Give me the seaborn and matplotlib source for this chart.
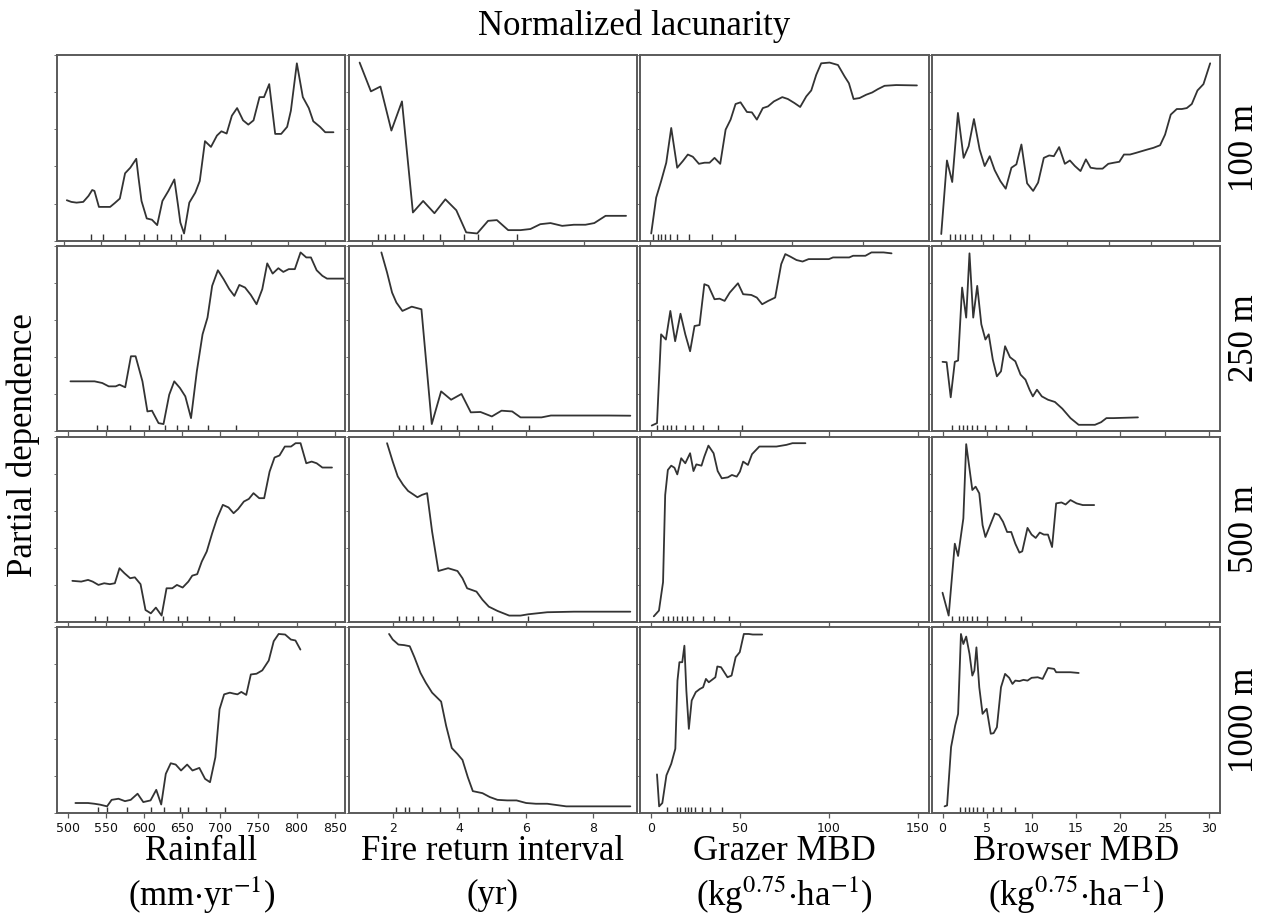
import seaborn as sns
import matplotlib.pyplot as plt

# values; y is the partial dependence in % of its panel range
rows = ['100 m', '250 m', '500 m', '1000 m']
predictors = ['Rainfall', 'Fire return interval', 'Grazer MBD', 'Browser MBD']
units = [r'(mm$\cdot$yr$^{-1}$)', '(yr)',
         r'(kg$^{0.75}$$\cdot$ha$^{-1}$)', r'(kg$^{0.75}$$\cdot$ha$^{-1}$)']
tick_values = [[500, 550, 600, 650, 700, 750, 800, 850], [2, 4, 6, 8],
               [0, 50, 100, 150], [0, 5, 10, 15, 20, 25, 30]]
x_limits = [[(491, 877), (1.34, 9.51), (-7, 196), (-1.12, 33.26)],
            [(486, 864), (0.68, 9.32), (-6, 156), (-1.2, 31.2)],
            [(486, 864), (0.68, 9.32), (-6, 156), (-1.2, 31.2)],
            [(486, 864), (0.68, 9.32), (-6, 156), (-1.2, 31.2)]]

# 100 m
rain_100_x = [504, 510, 517, 526, 533, 538, 541, 547, 555, 562, 568, 575, 582, 589, 597, 600, 604, 611,
              618, 625, 632, 640, 648, 653, 656, 661, 668, 676, 682, 689, 697, 705, 711, 718, 725, 732,
              740, 747, 754, 762, 768, 775, 783, 791, 799, 804, 812, 820, 828, 834, 843, 850, 861]
rain_100_y = [21.8, 20.9, 20.5, 20.9, 24.1, 27.3, 26.8, 18.2, 18.2, 18.2, 20.2, 22.7, 36.3, 39.3, 44.1,
              33.9, 21.4, 12.0, 11.3, 8.4, 21.4, 26.8, 33.0, 18.8, 9.8, 3.9, 20.5, 25.9, 32.1, 53.6, 50.5,
              56.6, 58.9, 57.7, 67.3, 71.4, 64.8, 62.5, 64.8, 77.3, 77.3, 84.3, 57.5, 57.5, 61.3, 70.0,
              95.5, 77.3, 71.4, 64.3, 61.3, 58.4, 58.4]
fire_100_x = [1.65, 1.97, 2.24, 2.55, 2.85, 3.16, 3.45, 3.77, 4.08, 4.39, 4.67, 4.98, 5.29, 5.54, 5.86,
              6.21, 6.49, 6.77, 7.06, 7.39, 7.72, 8.05, 8.30, 8.62, 9.20]
fire_100_y = [95.9, 80.4, 83.0, 59.3, 75.0, 15.2, 21.4, 14.8, 22.3, 16.4, 4.5, 3.9, 10.7, 11.1, 5.7,
              5.7, 6.3, 8.9, 9.5, 8.0, 8.6, 8.6, 9.5, 13.4, 13.4]
graz_100_x = [0.7, 4.2, 7.7, 11.3, 14.8, 19.0, 23.0, 26.5, 30.0, 34.3, 38.3, 41.8, 45.3, 49.3, 53.1,
              56.6, 60.1, 63.6, 68.1, 71.6, 75.1, 79.3, 82.9, 87.1, 93.0, 96.9, 101.6, 105.6, 109.9,
              113.4, 116.9, 120.4, 126.3, 132.2, 136.9, 139.9, 143.2, 147.4, 152.1, 156.3, 160.3,
              165.0, 173.2, 187.8]
graz_100_y = [3.9, 23.2, 32.1, 42.0, 60.7, 39.3, 42.9, 46.4, 45.2, 41.4, 42.0, 42.0, 44.6, 41.4, 59.8,
              65.2, 73.6, 74.5, 69.3, 69.1, 65.2, 71.4, 72.3, 75.0, 77.3, 76.3, 74.1, 72.0, 77.7, 80.9,
              89.3, 95.5, 95.9, 94.6, 88.4, 84.8, 76.3, 76.8, 78.6, 79.8, 81.6, 83.4, 83.8, 83.6]
brow_100_x = [0, 0.68, 1.31, 1.99, 2.67, 3.27, 3.90, 4.58, 5.18, 5.78, 6.37, 7.05, 7.69, 8.37, 8.96,
              9.56, 10.24, 10.96, 11.55, 12.23, 12.87, 13.43, 14.06, 14.74, 15.34, 15.94, 16.61, 17.25,
              17.81, 18.53, 19.24, 19.92, 20.60, 21.24, 21.79, 22.51, 23.23, 23.90, 24.58, 25.30,
              26.10, 26.69, 27.37, 28.09, 28.69, 29.28, 29.88, 30.56, 31.27, 32.07]
brow_100_y = [3.6, 43.2, 31.6, 68.8, 44.6, 50.9, 65.5, 49.1, 40.2, 45.5, 38.0, 32.1, 28.0, 39.3, 41.1,
              51.8, 30.9, 26.8, 31.3, 44.6, 45.9, 45.5, 50.4, 41.4, 43.2, 40.2, 37.5, 43.8, 39.3, 38.8,
              38.8, 41.4, 42.0, 42.5, 46.4, 46.4, 47.3, 48.2, 49.1, 50.0, 51.4, 57.1, 67.9, 70.9, 70.9,
              71.4, 73.6, 80.9, 84.3, 95.5]

# 250 m
rain_250_x = [503.5, 522.6, 535.1, 545.2, 553.7, 562.8, 567.8, 575.3, 582.8, 588.9, 597.9, 604.4,
              610.4, 619.0, 625.5, 633.0, 639.6, 647.1, 654.1, 661.6, 669.2, 676.7, 683.2, 689.3,
              696.8, 704.3, 711.8, 718.4, 724.9, 732.4, 740.0, 747.5, 755.0, 761.5, 768.6, 776.1,
              782.6, 789.7, 797.7, 805.2, 812.7, 818.8, 826.3, 833.8, 839.9, 862.4]
rain_250_y = [27.0, 27.0, 27.0, 26.1, 24.3, 24.3, 25.2, 23.8, 40.5, 40.5, 27.0, 10.8, 11.2, 4.5, 4.0,
              19.8, 27.0, 23.4, 18.9, 7.2, 32.4, 52.3, 61.3, 78.4, 86.8, 82.0, 76.6, 73.0, 78.9, 77.5,
              73.5, 68.5, 76.6, 90.5, 85.0, 87.9, 85.9, 87.4, 87.4, 96.4, 93.7, 93.7, 86.8, 83.8,
              82.3, 82.3]
fire_250_x = [1.66, 1.83, 1.98, 2.11, 2.29, 2.57, 2.86, 3.17, 3.45, 3.75, 4.06, 4.34, 4.63, 4.97,
              5.26, 5.58, 5.83, 6.46, 6.74, 8.46, 9.12]
fire_250_y = [96.4, 85.6, 74.8, 69.4, 64.9, 67.2, 65.8, 4.0, 21.6, 17.1, 20.2, 10.3, 10.5, 8.1, 11.2,
              10.8, 7.6, 7.6, 8.6, 8.6, 8.5]
graz_250_x = [0.45, 3.4, 5.7, 8.4, 10.9, 13.6, 16.6, 19.3, 22.0, 24.5, 27.3, 30.0, 32.3, 35.7, 38.6,
              41.4, 44.3, 48.9, 51.8, 56.4, 59.5, 62.5, 65.9, 69.8, 73.2, 75.5, 78.4, 81.8, 85.2, 88.6,
              95.5, 100.0, 102.3, 111.4, 113.6, 120.5, 123.9, 130.7, 135.2]
graz_250_y = [3.2, 4.5, 52.3, 49.5, 64.9, 48.6, 63.4, 52.3, 43.2, 56.8, 57.3, 79.3, 78.4, 71.2, 71.5,
              70.3, 74.8, 79.8, 73.9, 73.5, 72.1, 68.5, 70.3, 72.1, 90.1, 95.5, 94.1, 92.3, 91.5, 92.8,
              92.8, 92.8, 93.7, 93.7, 94.6, 94.6, 96.4, 96.4, 95.9]
brow_250_x = [0, 0.46, 0.92, 1.38, 1.75, 2.20, 2.66, 3.03, 3.45, 3.90, 4.36, 4.82, 5.19, 5.65, 6.11,
              6.57, 7.03, 7.58, 8.18, 8.77, 9.32, 9.78, 10.15, 10.61, 11.16, 11.85, 12.63, 13.46,
              14.38, 15.30, 17.13, 17.82, 18.42, 19.20, 21.96]
brow_250_y = [37.5, 37.3, 18.4, 37.5, 38.2, 77.5, 61.3, 95.9, 61.3, 78.4, 57.7, 49.5, 52.3, 38.7, 29.7,
              32.4, 45.9, 40.0, 37.8, 30.6, 27.9, 22.5, 18.9, 22.5, 18.9, 17.1, 15.9, 12.3, 7.2, 3.6,
              3.6, 5.0, 7.2, 7.2, 7.6]

# 500 m
rain_500_x = [506.0, 517.6, 526.6, 532.6, 540.2, 547.7, 555.2, 561.7, 567.8, 574.3, 581.8, 587.9,
              595.4, 601.9, 608.9, 615.5, 623.0, 629.5, 637.0, 643.1, 650.6, 658.1, 663.2, 669.7,
              675.7, 682.2, 689.3, 695.8, 703.3, 710.8, 717.4, 723.4, 730.9, 737.4, 743.5, 751.0,
              757.5, 764.6, 771.1, 777.6, 784.6, 792.7, 798.7, 805.2, 812.7, 819.8, 826.3, 833.8, 846.4]
rain_500_y = [22.3, 21.9, 22.8, 21.9, 20.1, 21.0, 20.5, 21.0, 29.1, 26.4, 23.7, 24.2, 20.5, 6.6, 4.8,
              7.9, 3.6, 18.3, 18.3, 20.1, 18.7, 21.9, 25.1, 25.9, 32.7, 38.1, 47.9, 56.0, 63.2, 61.8,
              58.7, 61.0, 65.0, 66.4, 69.5, 66.8, 66.8, 81.1, 88.7, 89.8, 94.6, 94.6, 96.4, 96.4, 85.6,
              86.5, 85.6, 83.3, 83.3]
fire_500_x = [1.83, 2.0, 2.15, 2.31, 2.46, 2.61, 2.74, 2.88, 3.03, 3.18, 3.37, 3.66, 3.94, 4.09, 4.23,
              4.51, 4.69, 4.88, 5.14, 5.49, 5.83, 6.06, 6.63, 7.43, 9.12]
fire_500_y = [96.4, 86.5, 78.5, 74.0, 70.7, 68.9, 67.3, 68.6, 69.5, 48.8, 27.6, 29.1, 27.6, 23.7, 18.3,
              16.5, 12.1, 8.4, 6.1, 3.6, 3.6, 4.3, 5.4, 5.7, 5.7]
graz_500_x = [1.6, 4.5, 6.8, 8.0, 9.5, 11.4, 13.2, 14.8, 17.0, 19.3, 22.0, 23.9, 25.5, 28.4, 30.0,
              32.3, 35.2, 37.5, 39.8, 43.2, 45.5, 48.2, 50.0, 51.8, 54.5, 56.8, 60.9, 65.9, 70.5, 76.1,
              79.5, 86.8]
graz_500_y = [3.2, 6.3, 21.6, 68.5, 82.0, 84.3, 83.2, 79.6, 88.3, 85.6, 91.0, 81.4, 85.0, 84.3, 89.2,
              95.1, 91.0, 81.4, 77.5, 78.0, 79.3, 78.4, 81.1, 86.5, 84.7, 90.5, 94.6, 94.6, 94.6, 95.5,
              96.4, 96.4]
brow_500_x = [0, 0.69, 1.38, 1.75, 2.34, 2.66, 3.35, 3.72, 4.13, 4.50, 4.82, 5.28, 5.88, 6.34, 6.80,
              7.26, 7.72, 8.18, 8.64, 8.96, 9.55, 10.01, 10.47, 10.93, 11.39, 11.85, 12.31, 12.77,
              13.37, 13.83, 14.38, 15.07, 15.76, 17.04]
brow_500_y = [15.9, 3.6, 42.3, 35.7, 55.9, 95.9, 71.2, 73.0, 69.4, 52.3, 45.9, 51.4, 58.6, 57.7, 54.1,
              48.6, 48.6, 42.3, 37.5, 38.2, 50.8, 47.2, 45.4, 48.3, 47.2, 47.2, 40.5, 64.0, 64.5, 63.4,
              65.8, 64.0, 63.1, 63.1]

# 1000 m
rain_1000_x = [510, 526.5, 535, 542.5, 551.5, 557.5, 566.5, 575, 582.5, 591.5, 599, 608.5, 616, 622.5,
               628.5, 635, 641.5, 648.5, 656.5, 663.5, 672.5, 680, 686.5, 693.5, 699, 705, 712.5,
               717.5, 722.5, 727.5, 734, 740, 747.5, 755, 763.5, 770, 776.5, 785, 792.5, 798.5, 805]
rain_1000_y = [5.4, 5.4, 5.0, 4.5, 3.6, 7.1, 7.7, 6.4, 7.1, 10.4, 5.9, 6.8, 12.5, 4.6, 21.1, 26.8,
               26.1, 22.9, 26.1, 22.9, 24.3, 18.4, 16.6, 30.0, 55.9, 63.9, 64.8, 64.3, 63.9, 65.2,
               63.6, 74.6, 75.0, 76.8, 82.1, 92.5, 96.4, 96.1, 93.4, 92.9, 88.0]
fire_1000_x = [1.89, 2.0, 2.17, 2.34, 2.51, 2.65, 2.83, 2.99, 3.18, 3.45, 3.60, 3.77, 3.94, 4.09,
               4.25, 4.40, 4.69, 4.91, 5.14, 5.43, 5.71, 6.0, 6.29, 6.63, 7.2, 7.77, 9.12]
fire_1000_y = [96.4, 93.4, 90.7, 90.4, 89.8, 83.9, 75.5, 70.2, 64.8, 60.0, 47.0, 35.0, 31.8, 28.6,
               19.3, 11.8, 10.7, 8.6, 7.1, 6.8, 6.8, 5.4, 5.0, 5.0, 3.6, 3.6, 3.6]
graz_1000_x = [3.4, 4.6, 6.4, 8.7, 11.4, 13.7, 14.9, 16.0, 17.6, 18.8, 19.9, 21.3, 22.9, 25.2, 27.5,
               29.3, 30.9, 32.5, 34.3, 36.2, 37.3, 39.4, 41.2, 43.0, 45.3, 47.6, 49.9, 52.2, 54.9,
               57.2, 62.5]
graz_1000_y = [20.8, 3.6, 5.4, 20.3, 26.5, 34.6, 71.3, 81.2, 81.2, 90.1, 65.9, 45.3, 60.6, 65.1, 66.8,
               67.7, 72.2, 70.4, 71.7, 73.1, 78.9, 78.5, 75.8, 73.1, 74.0, 83.9, 86.6, 96.4, 96.4,
               96.1, 96.1]
brow_1000_x = [0.23, 0.51, 0.96, 1.42, 1.75, 2.07, 2.34, 2.66, 3.03, 3.35, 3.58, 3.81, 4.13, 4.50,
               4.96, 5.42, 5.74, 6.11, 6.57, 7.03, 7.49, 7.86, 8.18, 8.64, 9.10, 9.55, 10.01, 10.70,
               11.25, 11.85, 12.54, 12.77, 14.38, 15.30]
brow_1000_y = [3.6, 4.1, 35.5, 47.1, 53.4, 96.4, 91.0, 95.0, 85.7, 74.0, 76.7, 89.2, 67.7, 53.4, 56.1,
               42.7, 43.0, 46.2, 67.7, 74.9, 72.8, 69.5, 71.3, 71.0, 71.7, 71.3, 72.8, 73.1, 72.2,
               78.1, 77.6, 75.8, 75.8, 75.4]

# deciles of each predictor (rug marks)
rain_rug = [[536, 553, 582, 608, 625, 644, 657, 682, 716],
            [538, 551, 582, 607, 627, 643, 657, 684, 721],
            [536, 551, 580, 606, 625, 645, 656, 685, 718],
            [540, 551, 577, 609, 626, 647, 657, 681, 706]]
fire_rug = [[2.17, 2.38, 2.61, 2.90, 3.44, 3.94, 4.60, 5.00, 6.11],
            [2.19, 2.40, 2.61, 2.91, 3.45, 3.94, 4.57, 4.99, 6.09],
            [2.19, 2.40, 2.61, 2.91, 3.22, 3.94, 4.57, 4.99, 6.06],
            [2.11, 2.38, 2.48, 2.88, 3.43, 3.92, 4.57, 4.99, 5.48]]
graz_rug = [[2.3, 5.4, 7.7, 10.1, 13.6, 19.0, 27.2, 43.7, 59.4],
            [3.4, 6.8, 9.1, 11.4, 14.3, 18.9, 23.9, 29.1, 37.5, 51.1],
            [6.8, 9.5, 12.5, 14.8, 17.5, 20.0, 23.9, 29.5, 35.2, 43.9],
            [9.2, 14.4, 16.5, 19.0, 21.1, 22.5, 24.5, 28.7, 33.3, 40.1]]
brow_rug = [[1.06, 1.65, 2.24, 2.87, 3.62, 4.72, 6.18, 8.15, 10.43],
            [1.06, 1.88, 2.34, 2.80, 3.26, 3.90, 4.82, 5.97, 7.35, 9.42],
            [1.06, 1.88, 2.34, 2.80, 3.35, 3.90, 4.96, 7.03, 8.87],
            [1.98, 2.53, 2.99, 3.45, 3.90, 4.50, 5.65, 6.57, 8.18]]

curves = [
    [(rain_100_x, rain_100_y), (fire_100_x, fire_100_y), (graz_100_x, graz_100_y), (brow_100_x, brow_100_y)],
    [(rain_250_x, rain_250_y), (fire_250_x, fire_250_y), (graz_250_x, graz_250_y), (brow_250_x, brow_250_y)],
    [(rain_500_x, rain_500_y), (fire_500_x, fire_500_y), (graz_500_x, graz_500_y), (brow_500_x, brow_500_y)],
    [(rain_1000_x, rain_1000_y), (fire_1000_x, fire_1000_y), (graz_1000_x, graz_1000_y), (brow_1000_x, brow_1000_y)],
]
rugs = [rain_rug, fire_rug, graz_rug, brow_rug]

sns.set_style('ticks')
plt.rcParams['font.family'] = ['Liberation Serif', 'DejaVu Serif']
plt.rcParams['mathtext.fontset'] = 'stix'
plt.rcParams['text.color'] = 'black'

line_col = '#333333'
frame_col = '#5a5a5a'

fig, axes = plt.subplots(4, 4, figsize=(12.69, 9.16), dpi=100)
fig.subplots_adjust(left=0.045, right=0.9615, top=0.94, bottom=0.1124, wspace=0.0114, hspace=0.027)

for i in range(4):
    for j in range(4):
        ax = axes[i, j]
        x, y = curves[i][j]
        sns.lineplot(x=x, y=y, ax=ax, color=line_col, linewidth=1.3, estimator=None, sort=False)
        sns.rugplot(x=rugs[j][i], ax=ax, height=0.035, color=line_col, linewidth=1.0)
        ax.set_xlim(*x_limits[i][j])
        ax.set_ylim(0, 100)
        ax.set_xticks(tick_values[j])
        ax.set_xlabel('')
        ax.set_ylabel('')
        ax.tick_params(axis='x', direction='out', length=3.5, width=0.9, color=frame_col, pad=3,
                       labelbottom=(i == 3), labelsize=9, labelcolor='#111111',
                       labelfontfamily='Liberation Sans Narrow')
        ax.tick_params(axis='y', direction='out', length=2, width=0.6, color=frame_col, labelleft=False)
        for s in ax.spines.values():
            s.set_color(frame_col)
            s.set_linewidth(1.4)

fig.text(0.5, 1 - 26 / 916, 'Normalized lacunarity', ha='center', va='center', fontsize=25)
fig.text(0.018, 1 - 445 / 916, 'Partial dependence', ha='center', va='center', rotation=90, fontsize=25)

for i, r in enumerate(rows):
    pos = axes[i, 3].get_position()
    fig.text(0.981, (pos.y0 + pos.y1) / 2, r, ha='center', va='center', rotation=90, fontsize=25)

for j in range(4):
    pos = axes[3, j].get_position()
    cx = (pos.x0 + pos.x1) / 2
    fig.text(cx, 1 - 852 / 916, predictors[j], ha='center', va='center', fontsize=25)
    fig.text(cx, 1 - 895 / 916, units[j], ha='center', va='center', fontsize=25)

plt.savefig('out.png', dpi=100)
